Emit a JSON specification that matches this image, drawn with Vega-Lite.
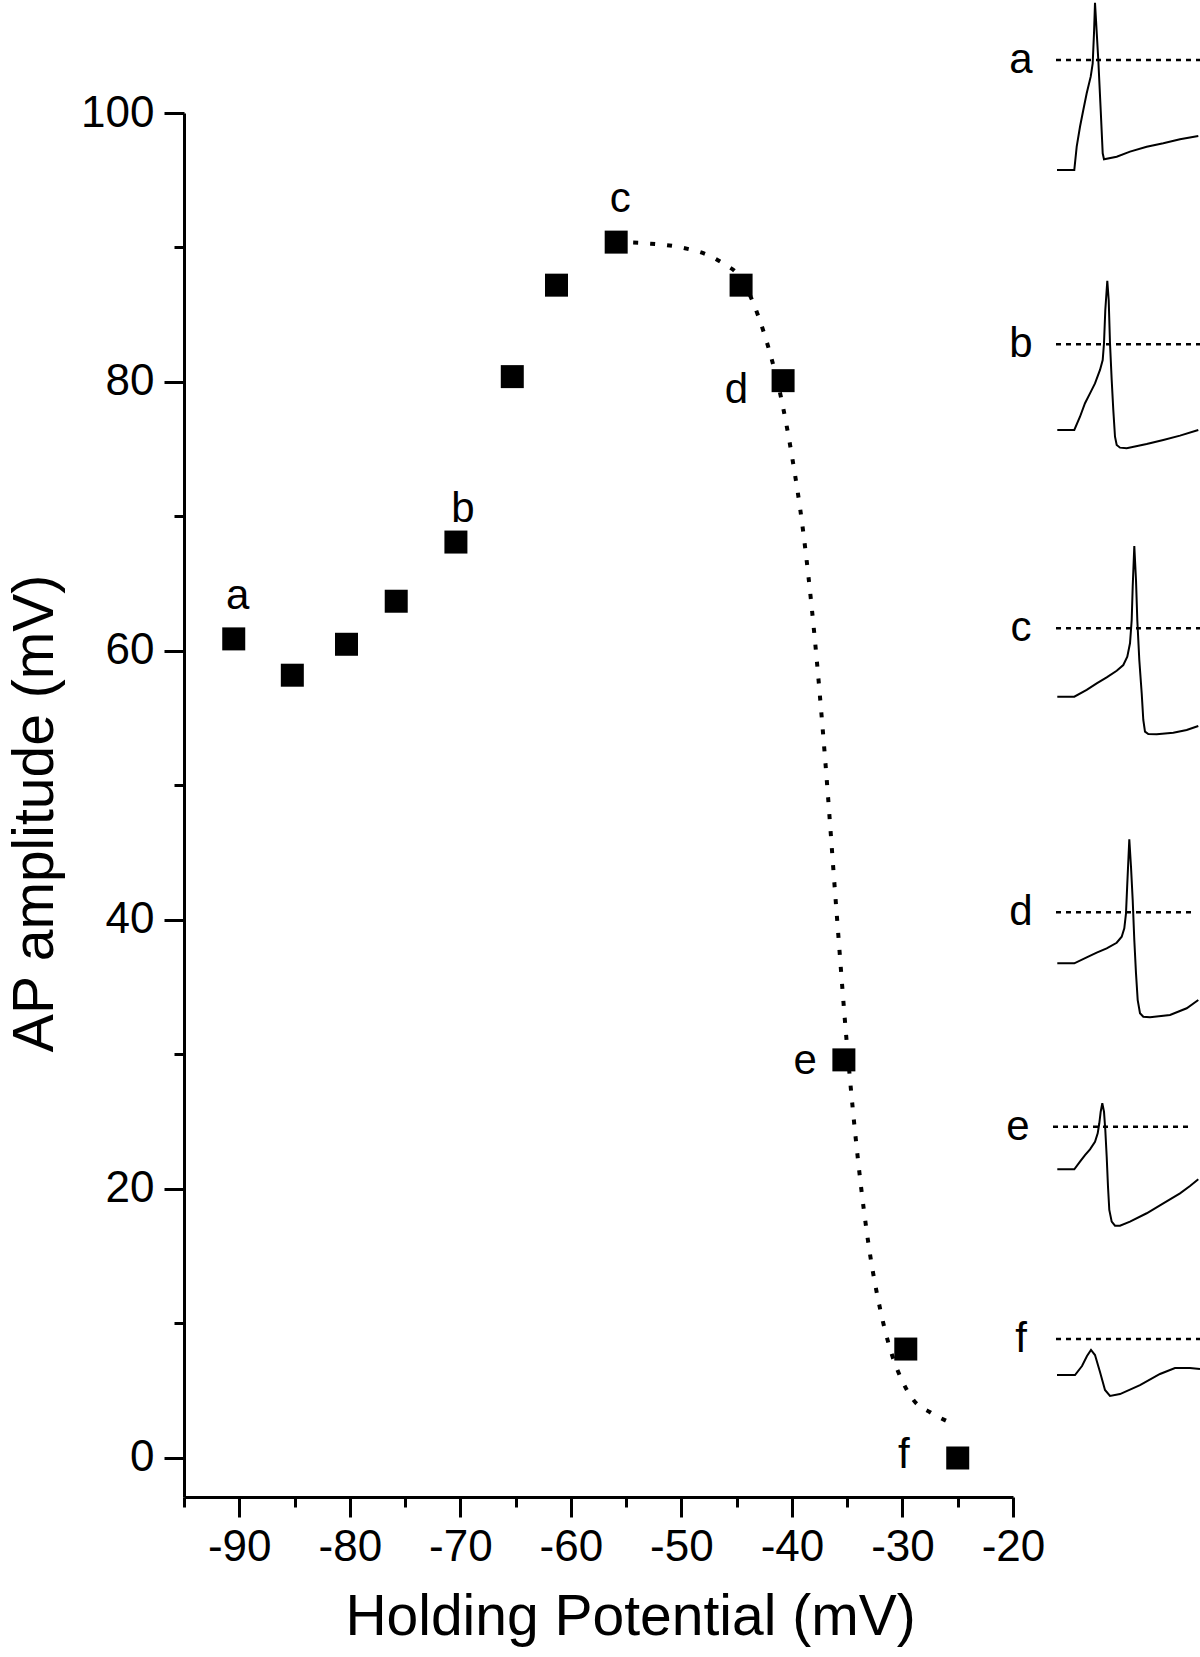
{
  "$schema": "https://vega.github.io/schema/vega-lite/v6.json",
  "width": 829,
  "height": 1384,
  "autosize": {"type": "none"},
  "padding": {"left": 184, "top": 113, "right": 187, "bottom": 160},
  "background": "white",
  "config": {"font": "Liberation Sans", "view": {"stroke": null}},
  "datasets": {
    "points": [
      {"hp": -90.5, "amp": 60.9, "label": "a"},
      {"hp": -85.2, "amp": 58.2, "label": ""},
      {"hp": -80.3, "amp": 60.5, "label": ""},
      {"hp": -75.8, "amp": 63.7, "label": ""},
      {"hp": -70.4, "amp": 68.1, "label": "b"},
      {"hp": -65.3, "amp": 80.4, "label": ""},
      {"hp": -61.3, "amp": 87.2, "label": ""},
      {"hp": -55.9, "amp": 90.4, "label": "c"},
      {"hp": -44.6, "amp": 87.2, "label": ""},
      {"hp": -40.8, "amp": 80.1, "label": "d"},
      {"hp": -35.3, "amp": 29.6, "label": "e"},
      {"hp": -29.7, "amp": 8.1, "label": ""},
      {"hp": -25.0, "amp": 0.0, "label": "f"}
    ],
    "fit": [
      {"hp": -55.9, "amp": 90.4},
      {"hp": -53, "amp": 90.3},
      {"hp": -50, "amp": 90.0},
      {"hp": -47.5, "amp": 89.4},
      {"hp": -46, "amp": 88.7},
      {"hp": -45, "amp": 88.1},
      {"hp": -44, "amp": 86.8},
      {"hp": -43, "amp": 84.8},
      {"hp": -42, "amp": 82.2},
      {"hp": -41, "amp": 78.9},
      {"hp": -40, "amp": 74.5},
      {"hp": -39, "amp": 69},
      {"hp": -38, "amp": 61.5},
      {"hp": -37, "amp": 52},
      {"hp": -36, "amp": 41},
      {"hp": -35, "amp": 30.5},
      {"hp": -34, "amp": 22},
      {"hp": -33, "amp": 15.5},
      {"hp": -32, "amp": 11},
      {"hp": -31, "amp": 7.8},
      {"hp": -30, "amp": 5.7},
      {"hp": -29, "amp": 4.3},
      {"hp": -27.5, "amp": 3.4},
      {"hp": -26, "amp": 2.75}
    ],
    "refs": [
      {"trace": "a", "t0": -0.1, "t1": 14.3, "v": 0},
      {"trace": "b", "t0": -0.1, "t1": 14.3, "v": 0},
      {"trace": "c", "t0": -0.1, "t1": 14.3, "v": 0},
      {"trace": "d", "t0": -0.1, "t1": 13.5, "v": 0},
      {"trace": "e", "t0": -0.4, "t1": 13.3, "v": 0},
      {"trace": "f", "t0": -0.1, "t1": 14.3, "v": 0}
    ],
    "traces": [
      {"trace": "a", "t": 0, "v": -73.3},
      {"trace": "a", "t": 1.73, "v": -73.3},
      {"trace": "a", "t": 1.97, "v": -57.8},
      {"trace": "a", "t": 2.3, "v": -44.5},
      {"trace": "a", "t": 2.63, "v": -33.3},
      {"trace": "a", "t": 2.97, "v": -22.2},
      {"trace": "a", "t": 3.37, "v": -11.1},
      {"trace": "a", "t": 3.57, "v": -2.2},
      {"trace": "a", "t": 3.7, "v": 17.8},
      {"trace": "a", "t": 3.8, "v": 38.2},
      {"trace": "a", "t": 3.9, "v": 26.7},
      {"trace": "a", "t": 4.13, "v": 0},
      {"trace": "a", "t": 4.37, "v": -33.3},
      {"trace": "a", "t": 4.57, "v": -62.2},
      {"trace": "a", "t": 4.7, "v": -66.2},
      {"trace": "a", "t": 5.97, "v": -64.5},
      {"trace": "a", "t": 7.3, "v": -61.1},
      {"trace": "a", "t": 8.97, "v": -57.8},
      {"trace": "a", "t": 10.63, "v": -55.5},
      {"trace": "a", "t": 12.3, "v": -52.9},
      {"trace": "a", "t": 14.13, "v": -50.7},
      {"trace": "b", "t": 0.03, "v": -57.1},
      {"trace": "b", "t": 1.73, "v": -57.1},
      {"trace": "b", "t": 2.3, "v": -48.3},
      {"trace": "b", "t": 2.8, "v": -39.3},
      {"trace": "b", "t": 3.3, "v": -32.7},
      {"trace": "b", "t": 3.8, "v": -26.1},
      {"trace": "b", "t": 4.3, "v": -17.1},
      {"trace": "b", "t": 4.57, "v": -10.5},
      {"trace": "b", "t": 4.7, "v": 0.7},
      {"trace": "b", "t": 4.83, "v": 22.9},
      {"trace": "b", "t": 5.03, "v": 42.4},
      {"trace": "b", "t": 5.17, "v": 29.5},
      {"trace": "b", "t": 5.3, "v": 0.7},
      {"trace": "b", "t": 5.47, "v": -23.8},
      {"trace": "b", "t": 5.63, "v": -43.8},
      {"trace": "b", "t": 5.8, "v": -61.6},
      {"trace": "b", "t": 5.97, "v": -67.1},
      {"trace": "b", "t": 6.3, "v": -68.9},
      {"trace": "b", "t": 6.97, "v": -69.3},
      {"trace": "b", "t": 8.97, "v": -66.5},
      {"trace": "b", "t": 10.63, "v": -63.8},
      {"trace": "b", "t": 12.3, "v": -60.9},
      {"trace": "b", "t": 14.13, "v": -57.1},
      {"trace": "c", "t": 0.03, "v": -45.6},
      {"trace": "c", "t": 1.73, "v": -45.6},
      {"trace": "c", "t": 2.97, "v": -41.1},
      {"trace": "c", "t": 3.97, "v": -36.7},
      {"trace": "c", "t": 4.97, "v": -32.7},
      {"trace": "c", "t": 5.97, "v": -28.3},
      {"trace": "c", "t": 6.63, "v": -24.5},
      {"trace": "c", "t": 7.03, "v": -19},
      {"trace": "c", "t": 7.3, "v": -10},
      {"trace": "c", "t": 7.47, "v": 5.5},
      {"trace": "c", "t": 7.57, "v": 27.7},
      {"trace": "c", "t": 7.73, "v": 54.9},
      {"trace": "c", "t": 7.9, "v": 32.2},
      {"trace": "c", "t": 8.03, "v": 5.5},
      {"trace": "c", "t": 8.23, "v": -21.1},
      {"trace": "c", "t": 8.47, "v": -43.3},
      {"trace": "c", "t": 8.63, "v": -61.1},
      {"trace": "c", "t": 8.8, "v": -68.9},
      {"trace": "c", "t": 9.13, "v": -70.5},
      {"trace": "c", "t": 9.97, "v": -70.7},
      {"trace": "c", "t": 11.63, "v": -69.6},
      {"trace": "c", "t": 12.97, "v": -67.8},
      {"trace": "c", "t": 14.13, "v": -65.1},
      {"trace": "d", "t": 0.03, "v": -34},
      {"trace": "d", "t": 1.73, "v": -34},
      {"trace": "d", "t": 2.97, "v": -30},
      {"trace": "d", "t": 3.97, "v": -26.9},
      {"trace": "d", "t": 4.97, "v": -24},
      {"trace": "d", "t": 5.97, "v": -20.3},
      {"trace": "d", "t": 6.47, "v": -16.3},
      {"trace": "d", "t": 6.73, "v": -10.7},
      {"trace": "d", "t": 6.9, "v": -0.7},
      {"trace": "d", "t": 7.03, "v": 19.3},
      {"trace": "d", "t": 7.23, "v": 48.7},
      {"trace": "d", "t": 7.4, "v": 30.4},
      {"trace": "d", "t": 7.57, "v": 8.2},
      {"trace": "d", "t": 7.73, "v": -18.5},
      {"trace": "d", "t": 7.9, "v": -40.7},
      {"trace": "d", "t": 8.07, "v": -58.5},
      {"trace": "d", "t": 8.3, "v": -67.3},
      {"trace": "d", "t": 8.63, "v": -69.6},
      {"trace": "d", "t": 9.3, "v": -70},
      {"trace": "d", "t": 11.3, "v": -68.5},
      {"trace": "d", "t": 12.97, "v": -64},
      {"trace": "d", "t": 14.13, "v": -58.5},
      {"trace": "e", "t": 0.03, "v": -28.4},
      {"trace": "e", "t": 1.73, "v": -28.4},
      {"trace": "e", "t": 2.3, "v": -23.3},
      {"trace": "e", "t": 2.8, "v": -18.9},
      {"trace": "e", "t": 3.3, "v": -15.1},
      {"trace": "e", "t": 3.8, "v": -10},
      {"trace": "e", "t": 4.07, "v": -4.4},
      {"trace": "e", "t": 4.23, "v": 2.3},
      {"trace": "e", "t": 4.37, "v": 10},
      {"trace": "e", "t": 4.53, "v": 15.6},
      {"trace": "e", "t": 4.7, "v": 10},
      {"trace": "e", "t": 4.83, "v": -2.2},
      {"trace": "e", "t": 4.97, "v": -20},
      {"trace": "e", "t": 5.1, "v": -40},
      {"trace": "e", "t": 5.23, "v": -55.5},
      {"trace": "e", "t": 5.47, "v": -63.3},
      {"trace": "e", "t": 5.8, "v": -66},
      {"trace": "e", "t": 6.3, "v": -66},
      {"trace": "e", "t": 7.3, "v": -63.3},
      {"trace": "e", "t": 8.97, "v": -57.7},
      {"trace": "e", "t": 10.63, "v": -51.1},
      {"trace": "e", "t": 12.3, "v": -44.4},
      {"trace": "e", "t": 13.3, "v": -39.5},
      {"trace": "e", "t": 14.13, "v": -35},
      {"trace": "f", "t": 0, "v": -24},
      {"trace": "f", "t": 1.8, "v": -24},
      {"trace": "f", "t": 2.5, "v": -18},
      {"trace": "f", "t": 3.0, "v": -11.3},
      {"trace": "f", "t": 3.4, "v": -7.3},
      {"trace": "f", "t": 3.8, "v": -10.7},
      {"trace": "f", "t": 4.3, "v": -22},
      {"trace": "f", "t": 4.8, "v": -34},
      {"trace": "f", "t": 5.3, "v": -38},
      {"trace": "f", "t": 6.3, "v": -36.7},
      {"trace": "f", "t": 8.3, "v": -30.7},
      {"trace": "f", "t": 10.3, "v": -23.3},
      {"trace": "f", "t": 11.8, "v": -19.3},
      {"trace": "f", "t": 13.3, "v": -19.3},
      {"trace": "f", "t": 14.3, "v": -20}
    ]
  },
  "layer": [
    {
      "layer": [
        {
          "data": {"name": "fit"},
          "mark": {"type": "line", "color": "black", "strokeWidth": 4, "strokeDash": [5, 12], "interpolate": "monotone"},
          "encoding": {
            "x": {"field": "hp", "type": "quantitative",
              "scale": {"domain": [-95, -20], "nice": false, "zero": false},
              "axis": {"orient": "bottom", "values": [-95, -85, -75, -65, -55, -45, -35, -25], "labels": false, "domain": false, "grid": false, "tickSize": 10, "tickWidth": 3, "tickColor": "black", "title": null}},
            "y": {"field": "amp", "type": "quantitative",
              "scale": {"domain": [-2.9, 100], "nice": false, "zero": false},
              "axis": {"orient": "left", "values": [10, 30, 50, 70, 90], "labels": false, "domain": false, "grid": false, "tickSize": 10, "tickWidth": 3, "tickColor": "black", "title": null}}
          }
        },
        {
          "data": {"name": "points"},
          "mark": {"type": "square", "size": 529, "color": "black", "filled": true, "opacity": 1},
          "encoding": {
            "x": {"field": "hp", "type": "quantitative",
              "axis": {"orient": "bottom", "values": [-90, -80, -70, -60, -50, -40, -30, -20], "labelExpr": "datum.value + ''", "grid": false,
                "domainColor": "black", "domainWidth": 3, "tickColor": "black", "tickWidth": 3, "tickSize": 20,
                "labelColor": "black", "labelFont": "Liberation Sans", "labelFontSize": 44, "labelPadding": 8, "labelFlush": false, "labelOverlap": false,
                "title": "Holding Potential (mV)", "titleFont": "Liberation Sans", "titleFontSize": 57, "titleFontWeight": "normal", "titleColor": "black", "titlePadding": 20, "titleX": 446}},
            "y": {"field": "amp", "type": "quantitative",
              "axis": {"orient": "left", "values": [0, 20, 40, 60, 80, 100], "grid": false,
                "domainColor": "black", "domainWidth": 3, "tickColor": "black", "tickWidth": 3, "tickSize": 20,
                "labelColor": "black", "labelFont": "Liberation Sans", "labelFontSize": 44, "labelPadding": 10, "labelFlush": false, "labelOverlap": false,
                "title": "AP amplitude (mV)", "titleFont": "Liberation Sans", "titleFontSize": 57, "titleFontWeight": "normal", "titleColor": "black", "titlePadding": 16, "titleY": 700}}
          }
        },
        {
          "data": {"name": "points"},
          "transform": [{"filter": "datum.label === 'a' || datum.label === 'c'"}],
          "mark": {"type": "text", "fontSize": 42, "align": "center", "baseline": "alphabetic", "dx": 4, "dy": -30, "color": "black"},
          "encoding": {
            "x": {"field": "hp", "type": "quantitative", "axis": null},
            "y": {"field": "amp", "type": "quantitative", "axis": null},
            "text": {"field": "label"}
          }
        },
        {
          "data": {"name": "points"},
          "transform": [{"filter": "datum.label === 'b'"}],
          "mark": {"type": "text", "fontSize": 42, "align": "center", "baseline": "alphabetic", "dx": 7, "dy": -20, "color": "black"},
          "encoding": {
            "x": {"field": "hp", "type": "quantitative", "axis": null},
            "y": {"field": "amp", "type": "quantitative", "axis": null},
            "text": {"field": "label"}
          }
        },
        {
          "data": {"name": "points"},
          "transform": [{"filter": "datum.label === 'd'"}],
          "mark": {"type": "text", "fontSize": 42, "align": "right", "baseline": "alphabetic", "dx": -35, "dy": 22, "color": "black"},
          "encoding": {
            "x": {"field": "hp", "type": "quantitative", "axis": null},
            "y": {"field": "amp", "type": "quantitative", "axis": null},
            "text": {"field": "label"}
          }
        },
        {
          "data": {"name": "points"},
          "transform": [{"filter": "datum.label === 'e'"}],
          "mark": {"type": "text", "fontSize": 42, "align": "right", "baseline": "alphabetic", "dx": -27, "dy": 14, "color": "black"},
          "encoding": {
            "x": {"field": "hp", "type": "quantitative", "axis": null},
            "y": {"field": "amp", "type": "quantitative", "axis": null},
            "text": {"field": "label"}
          }
        },
        {
          "data": {"name": "points"},
          "transform": [{"filter": "datum.label === 'f'"}],
          "mark": {"type": "text", "fontSize": 42, "align": "right", "baseline": "alphabetic", "dx": -48, "dy": 10, "color": "black"},
          "encoding": {
            "x": {"field": "hp", "type": "quantitative", "axis": null},
            "y": {"field": "amp", "type": "quantitative", "axis": null},
            "text": {"field": "label"}
          }
        }
      ],
      "resolve": {"axis": {"x": "independent", "y": "independent"}}
    },
    {
      "layer": [
        {
          "layer": [
            {"data": {"name": "traces"}, "transform": [{"filter": "datum.trace === 'a'"}],
             "mark": {"type": "line", "color": "black", "strokeWidth": 2},
             "encoding": {"x": {"field": "t", "type": "quantitative", "axis": null, "scale": {"domain": [0, 14.3], "range": [873, 1016], "nice": false, "zero": false}},
                          "y": {"field": "v", "type": "quantitative", "axis": null, "scale": {"domain": [-80, 60], "range": [67, -143], "nice": false, "zero": false}}}},
            {"data": {"name": "refs"}, "transform": [{"filter": "datum.trace === 'a'"}],
             "mark": {"type": "rule", "color": "black", "strokeWidth": 2.5, "strokeDash": [5, 5]},
             "encoding": {"x": {"field": "t0", "type": "quantitative", "axis": null}, "x2": {"field": "t1"}, "y": {"field": "v", "type": "quantitative", "axis": null}}},
            {"data": {"name": "refs"}, "transform": [{"filter": "datum.trace === 'a'"}],
             "mark": {"type": "text", "fontSize": 42, "align": "center", "baseline": "middle", "dx": -35, "color": "black"},
             "encoding": {"x": {"field": "t0", "type": "quantitative", "axis": null}, "y": {"field": "v", "type": "quantitative", "axis": null}, "text": {"field": "trace"}}}
          ]
        },
        {
          "layer": [
            {"data": {"name": "traces"}, "transform": [{"filter": "datum.trace === 'b'"}],
             "mark": {"type": "line", "color": "black", "strokeWidth": 2},
             "encoding": {"x": {"field": "t", "type": "quantitative", "axis": null},
                          "y": {"field": "v", "type": "quantitative", "axis": null, "scale": {"domain": [-80, 60], "range": [351.3, 141.3], "nice": false, "zero": false}}}},
            {"data": {"name": "refs"}, "transform": [{"filter": "datum.trace === 'b'"}],
             "mark": {"type": "rule", "color": "black", "strokeWidth": 2.5, "strokeDash": [5, 5]},
             "encoding": {"x": {"field": "t0", "type": "quantitative", "axis": null}, "x2": {"field": "t1"}, "y": {"field": "v", "type": "quantitative", "axis": null}}},
            {"data": {"name": "refs"}, "transform": [{"filter": "datum.trace === 'b'"}],
             "mark": {"type": "text", "fontSize": 42, "align": "center", "baseline": "middle", "dx": -35, "color": "black"},
             "encoding": {"x": {"field": "t0", "type": "quantitative", "axis": null}, "y": {"field": "v", "type": "quantitative", "axis": null}, "text": {"field": "trace"}}}
          ]
        },
        {
          "layer": [
            {"data": {"name": "traces"}, "transform": [{"filter": "datum.trace === 'c'"}],
             "mark": {"type": "line", "color": "black", "strokeWidth": 2},
             "encoding": {"x": {"field": "t", "type": "quantitative", "axis": null},
                          "y": {"field": "v", "type": "quantitative", "axis": null, "scale": {"domain": [-80, 60], "range": [635.3, 425.3], "nice": false, "zero": false}}}},
            {"data": {"name": "refs"}, "transform": [{"filter": "datum.trace === 'c'"}],
             "mark": {"type": "rule", "color": "black", "strokeWidth": 2.5, "strokeDash": [5, 5]},
             "encoding": {"x": {"field": "t0", "type": "quantitative", "axis": null}, "x2": {"field": "t1"}, "y": {"field": "v", "type": "quantitative", "axis": null}}},
            {"data": {"name": "refs"}, "transform": [{"filter": "datum.trace === 'c'"}],
             "mark": {"type": "text", "fontSize": 42, "align": "center", "baseline": "middle", "dx": -35, "color": "black"},
             "encoding": {"x": {"field": "t0", "type": "quantitative", "axis": null}, "y": {"field": "v", "type": "quantitative", "axis": null}, "text": {"field": "trace"}}}
          ]
        },
        {
          "layer": [
            {"data": {"name": "traces"}, "transform": [{"filter": "datum.trace === 'd'"}],
             "mark": {"type": "line", "color": "black", "strokeWidth": 2},
             "encoding": {"x": {"field": "t", "type": "quantitative", "axis": null},
                          "y": {"field": "v", "type": "quantitative", "axis": null, "scale": {"domain": [-80, 60], "range": [919.3, 709.3], "nice": false, "zero": false}}}},
            {"data": {"name": "refs"}, "transform": [{"filter": "datum.trace === 'd'"}],
             "mark": {"type": "rule", "color": "black", "strokeWidth": 2.5, "strokeDash": [5, 5]},
             "encoding": {"x": {"field": "t0", "type": "quantitative", "axis": null}, "x2": {"field": "t1"}, "y": {"field": "v", "type": "quantitative", "axis": null}}},
            {"data": {"name": "refs"}, "transform": [{"filter": "datum.trace === 'd'"}],
             "mark": {"type": "text", "fontSize": 42, "align": "center", "baseline": "middle", "dx": -35, "color": "black"},
             "encoding": {"x": {"field": "t0", "type": "quantitative", "axis": null}, "y": {"field": "v", "type": "quantitative", "axis": null}, "text": {"field": "trace"}}}
          ]
        },
        {
          "layer": [
            {"data": {"name": "traces"}, "transform": [{"filter": "datum.trace === 'e'"}],
             "mark": {"type": "line", "color": "black", "strokeWidth": 2},
             "encoding": {"x": {"field": "t", "type": "quantitative", "axis": null},
                          "y": {"field": "v", "type": "quantitative", "axis": null, "scale": {"domain": [-80, 60], "range": [1133.7, 923.7], "nice": false, "zero": false}}}},
            {"data": {"name": "refs"}, "transform": [{"filter": "datum.trace === 'e'"}],
             "mark": {"type": "rule", "color": "black", "strokeWidth": 2.5, "strokeDash": [5, 5]},
             "encoding": {"x": {"field": "t0", "type": "quantitative", "axis": null}, "x2": {"field": "t1"}, "y": {"field": "v", "type": "quantitative", "axis": null}}},
            {"data": {"name": "refs"}, "transform": [{"filter": "datum.trace === 'e'"}],
             "mark": {"type": "text", "fontSize": 42, "align": "center", "baseline": "middle", "dx": -35, "color": "black"},
             "encoding": {"x": {"field": "t0", "type": "quantitative", "axis": null}, "y": {"field": "v", "type": "quantitative", "axis": null}, "text": {"field": "trace"}}}
          ]
        },
        {
          "layer": [
            {"data": {"name": "traces"}, "transform": [{"filter": "datum.trace === 'f'"}],
             "mark": {"type": "line", "color": "black", "strokeWidth": 2},
             "encoding": {"x": {"field": "t", "type": "quantitative", "axis": null},
                          "y": {"field": "v", "type": "quantitative", "axis": null, "scale": {"domain": [-80, 60], "range": [1346, 1136], "nice": false, "zero": false}}}},
            {"data": {"name": "refs"}, "transform": [{"filter": "datum.trace === 'f'"}],
             "mark": {"type": "rule", "color": "black", "strokeWidth": 2.5, "strokeDash": [5, 5]},
             "encoding": {"x": {"field": "t0", "type": "quantitative", "axis": null}, "x2": {"field": "t1"}, "y": {"field": "v", "type": "quantitative", "axis": null}}},
            {"data": {"name": "refs"}, "transform": [{"filter": "datum.trace === 'f'"}],
             "mark": {"type": "text", "fontSize": 42, "align": "center", "baseline": "middle", "dx": -35, "color": "black"},
             "encoding": {"x": {"field": "t0", "type": "quantitative", "axis": null}, "y": {"field": "v", "type": "quantitative", "axis": null}, "text": {"field": "trace"}}}
          ]
        }
      ],
      "resolve": {"scale": {"y": "independent"}}
    }
  ],
  "resolve": {"scale": {"x": "independent", "y": "independent"}}
}
